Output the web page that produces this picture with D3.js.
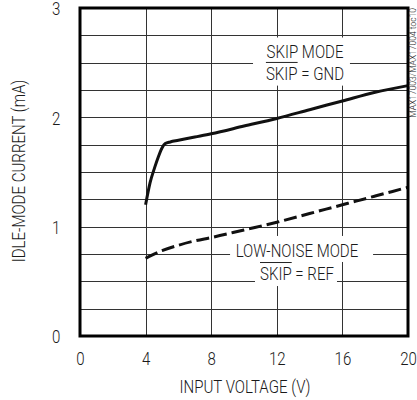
<!DOCTYPE html>
<html>
<head>
<meta charset="utf-8">
<script src="https://cdn.jsdelivr.net/npm/d3@7"></script>
<style>
  body { margin: 0; background: #fff; }
  text { font-family: Roboto, "Liberation Sans", sans-serif; font-weight: 300; fill: #1a1a1a; }
  .narrow { transform-box: fill-box; transform-origin: center; transform: scaleX(0.86); }
  .axis path, .axis line { display: none; }
  .grid line { stroke: #333; stroke-width: 1; shape-rendering: crispEdges; }
  .grid path { display: none; }
</style>
</head>
<body>
<svg id="chart" width="417" height="400"></svg>
<script>
// data
let skipV = [4, 4.27, 4.55, 4.78, 5.0, 5.2, 5.5, 6, 7, 8, 10, 12, 14, 16, 18, 20]
let skipI = [1.2, 1.4, 1.54, 1.64, 1.72, 1.76, 1.775, 1.79, 1.82, 1.85, 1.92, 1.99, 2.07, 2.15, 2.23, 2.29]
let lowV = [4, 5, 6, 7, 8, 10, 12, 14, 16, 18, 20]
let lowI = [0.71, 0.78, 0.83, 0.87, 0.9, 0.97, 1.04, 1.12, 1.2, 1.28, 1.36]
let xTicks = [0, 4, 8, 12, 16, 20]
let yTicks = [0, 1, 2, 3]
let xGrid = [4, 8, 12, 16]
let yGrid = [0.25, 0.5, 0.75, 1, 1.25, 1.5, 1.75, 2, 2.25, 2.5, 2.75]

let margin = {top: 8, right: 9, bottom: 64, left: 80}
let W = 417, H = 400
let w = W - margin.left - margin.right
let h = H - margin.top - margin.bottom
let fs = "17.5px"
let k = 0.86   // horizontal squeeze of the text, same as .narrow

let svg = d3.select("#chart")
let g = svg.append("g").attr("transform", `translate(${margin.left},${margin.top})`)

let x = d3.scaleLinear().domain([0, 20]).range([0, w])
let y = d3.scaleLinear().domain([0, 3]).range([h, 0])

// grid
g.append("g").attr("class", "grid")
    .attr("transform", `translate(0,${h})`)
    .call(d3.axisBottom(x).tickValues(xGrid).tickSize(-h).tickFormat(""))
g.append("g").attr("class", "grid")
    .call(d3.axisLeft(y).tickValues(yGrid).tickSize(-w).tickFormat(""))

// white boxes behind the labels (data units)
let masks = [
    {x0: 10.55, x1: 16.46, y0: 2.73, y1: 2.29},
    {x0: 9.15, x1: 17.87, y0: 0.915, y1: 0.677},
    {x0: 10.67, x1: 15.67, y0: 0.677, y1: 0.457}
]
g.selectAll(".mask").data(masks).enter().append("rect")
    .attr("x", d => x(d.x0)).attr("y", d => y(d.y0))
    .attr("width", d => x(d.x1) - x(d.x0))
    .attr("height", d => y(d.y1) - y(d.y0))
    .attr("fill", "#fff")

// curves
let line = d3.line().x(d => x(d[0])).y(d => y(d[1])).curve(d3.curveMonotoneX)
g.append("path")
    .datum(skipV.map((v, i) => [v, skipI[i]]))
    .attr("d", line)
    .attr("fill", "none").attr("stroke", "#111").attr("stroke-width", 3)
g.append("path")
    .datum(lowV.map((v, i) => [v, lowI[i]]))
    .attr("d", line)
    .attr("fill", "none").attr("stroke", "#111").attr("stroke-width", 3)
    .attr("stroke-dasharray", "13,5")

// frame
g.append("rect").attr("x", 0).attr("y", 0).attr("width", w).attr("height", h)
    .attr("fill", "none").attr("stroke", "#000").attr("stroke-width", 3)

// axes labels
g.append("g").attr("class", "axis")
    .attr("transform", `translate(0,${h})`)
    .call(d3.axisBottom(x).tickValues(xTicks).tickSize(0).tickPadding(17))
let ya = g.append("g").attr("class", "axis")
    .call(d3.axisLeft(y).tickValues(yTicks).tickSize(0).tickPadding(19).tickFormat(d3.format("d")))
ya.selectAll("text").attr("dy", "0.39em")
g.selectAll(".axis text").style("font-size", fs).attr("fill", null)
    .attr("font-family", null).classed("narrow", true)

svg.append("text").attr("class", "narrow")
    .attr("x", margin.left + w / 2 + 1).attr("y", 393)
    .attr("text-anchor", "middle").style("font-size", fs)
    .text("INPUT VOLTAGE (V)")
svg.append("g")
    .attr("transform", `translate(25,${margin.top + h / 2 - 1}) rotate(-90)`)
    .append("text").attr("class", "narrow")
    .attr("text-anchor", "middle").style("font-size", fs)
    .text("IDLE-MODE CURRENT (mA)")

// annotations
let labels = [
    {v: 13.72, i: 2.543, over: "", post: "SKIP MODE"},
    {v: 13.72, i: 2.342, over: "SKIP", post: " = GND"},
    {v: 13.23, i: 0.723, over: "", post: "LOW-NOISE MODE"},
    {v: 13.23, i: 0.512, over: "SKIP", post: " = REF"}
]
labels.forEach(function (d) {
    let lg = g.append("g")
    let t = lg.append("text").attr("class", "narrow")
        .attr("x", x(d.v)).attr("y", y(d.i))
        .attr("text-anchor", "middle").style("font-size", fs)
    t.append("tspan").text(d.over)
    t.append("tspan").text(d.post)
    if (d.over) {
        // overline across the signal name, squeezed like the text
        let tn = t.node()
        let a = tn.getStartPositionOfChar(0).x
        let b = tn.getEndPositionOfChar(d.over.length - 1).x
        let cx = x(d.v)
        lg.append("line")
            .attr("x1", cx + (a - cx) * k).attr("x2", cx + (b - cx) * k)
            .attr("y1", y(d.i) - 17.5).attr("y2", y(d.i) - 17.5)
            .attr("stroke", "#222").attr("stroke-width", 1)
    }
})

// figure id
svg.append("text")
    .attr("transform", `translate(416,8) rotate(-90)`)
    .attr("text-anchor", "end").style("font-size", "8.5px").attr("fill", "#555")
    .text("MAX17003/MAX17004 toc10")
</script>
</body>
</html>
